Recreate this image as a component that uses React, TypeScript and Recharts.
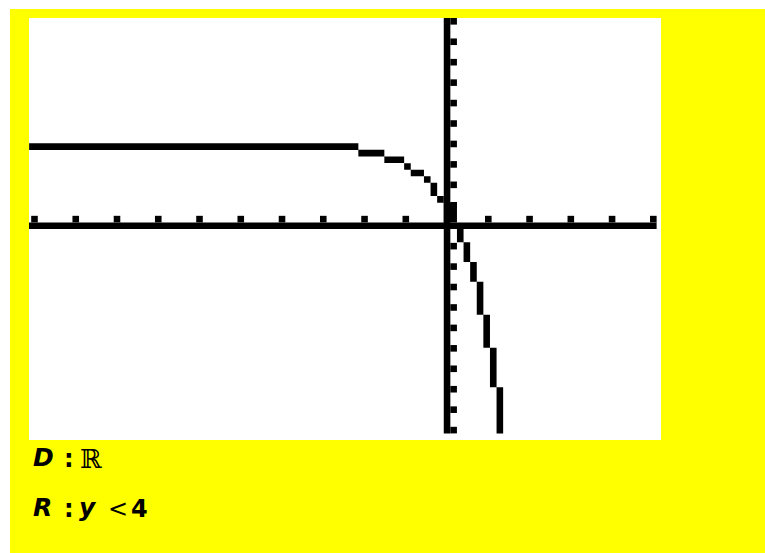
import { ComposedChart, Area, Scatter, ReferenceLine, XAxis, YAxis } from "recharts";

// calculator window: Xmin -10, Xmax 5, Ymin -10, Ymax 10 on a 95 x 63 dot screen
const xStep = 15 / 94;
const yStep = 20 / 62;

const xTicks = [-10, -9, -8, -7, -6, -5, -4, -3, -2, -1, 1, 2, 3, 4, 5];
const yTicks = [-10, -9, -8, -7, -6, -5, -4, -3, -2, -1, 1, 2, 3, 4, 5, 6, 7, 8, 9, 10];

// the curve as it shows on the screen, one run of dots per entry:
// x of the first column of the run, y of its top dot and of its bottom dot
const curveX = [-10.05, -2.07, -1.44, -0.96, -0.8, -0.48, -0.32, -0.16, 0, 0.32, 0.48, 0.64, 0.8, 0.96, 1.12, 1.28];
const curveTop = [3.87, 3.55, 3.23, 2.9, 2.58, 2.26, 1.94, 1.29, 0.97, -0.32, -0.97, -1.94, -2.9, -4.52, -6.13, -8.06];
const curveBottom = [3.87, 3.55, 3.23, 2.9, 2.58, 2.26, 1.61, 1.29, 0.32, -0.65, -1.61, -2.58, -4.19, -5.81, -7.74, -10];

const W = 632;
const H = 422;
const xDomain = [-10.133, 5.186];
const yDomain = [-10.484, 10.162];
const dotW = (W * xStep) / (xDomain[1] - xDomain[0]);
const dotH = (H * yStep) / (yDomain[1] - yDomain[0]);

// each run becomes a block of dots (step area between its lowest and highest dot)
const curveData = curveX.map((x, i) => ({
  x: x - xStep / 2,
  range: [curveBottom[i] - yStep / 2, curveTop[i] + yStep / 2],
}));
const last = curveX.length - 1;
curveData.push({
  x: curveX[last] + xStep / 2,
  range: [curveBottom[last] - yStep / 2, curveTop[last] + yStep / 2],
});

const xTickData = xTicks.map((x) => ({ x, y: 0 }));
const yTickData = yTicks.map((y) => ({ x: 0, y }));

const XTickDot = (props: any) => (
  <rect x={props.cx - dotW / 2} y={props.cy - dotH * 1.5} width={dotW} height={dotH} fill="#000" />
);
const YTickDot = (props: any) => (
  <rect x={props.cx + dotW / 2} y={props.cy - dotH / 2} width={dotW} height={dotH} fill="#000" />
);

const textStyle: React.CSSProperties = {
  position: "absolute",
  fontFamily: '"DejaVu Sans", Verdana, sans-serif',
  fontWeight: "bold",
  fontSize: 24,
  lineHeight: "24px",
  color: "#000",
  whiteSpace: "pre",
};
const italic: React.CSSProperties = { ...textStyle, fontStyle: "italic", fontSize: 25 };

export default function App() {
  return (
    <div style={{ position: "fixed", left: 10, top: 9, right: 0, bottom: 0, background: "#ffff00" }}>
      <div style={{ position: "absolute", left: 19, top: 9, width: W, height: H, background: "#fff" }}>
        <ComposedChart width={W} height={H} data={curveData} margin={{ top: 0, right: 0, bottom: 0, left: 0 }}>
          <XAxis dataKey="x" type="number" domain={xDomain} allowDataOverflow hide />
          <YAxis type="number" domain={yDomain} allowDataOverflow hide />
          <ReferenceLine
            segment={[{ x: xDomain[0], y: 0 }, { x: 5 + xStep / 2, y: 0 }]}
            stroke="#000"
            strokeWidth={dotH}
            ifOverflow="visible"
          />
          <ReferenceLine
            segment={[{ x: 0, y: -10 - yStep / 2 }, { x: 0, y: 10 + yStep / 2 }]}
            stroke="#000"
            strokeWidth={dotW}
            ifOverflow="visible"
          />
          <Scatter data={xTickData} dataKey="y" shape={XTickDot} isAnimationActive={false} />
          <Scatter data={yTickData} dataKey="y" shape={YTickDot} isAnimationActive={false} />
          <Area
            dataKey="range"
            type="stepAfter"
            stroke="none"
            fill="#000"
            fillOpacity={1}
            activeDot={false}
            isAnimationActive={false}
          />
        </ComposedChart>
      </div>
      <span style={{ ...italic, left: 23, top: 437 }}>D</span>
      <span style={{ ...textStyle, left: 54, top: 438 }}>:</span>
      <span style={{ ...textStyle, left: 70, top: 438, fontFamily: '"DejaVu Serif", serif', fontWeight: "normal", fontSize: 26 }}>ℝ</span>
      <span style={{ ...italic, left: 23, top: 487 }}>R</span>
      <span style={{ ...textStyle, left: 54, top: 488 }}>:</span>
      <span style={{ ...italic, left: 69, top: 487 }}>y</span>
      <span style={{ ...textStyle, left: 98, top: 488, fontWeight: "normal" }}>&lt;</span>
      <span style={{ ...textStyle, left: 121, top: 488 }}>4</span>
    </div>
  );
}
